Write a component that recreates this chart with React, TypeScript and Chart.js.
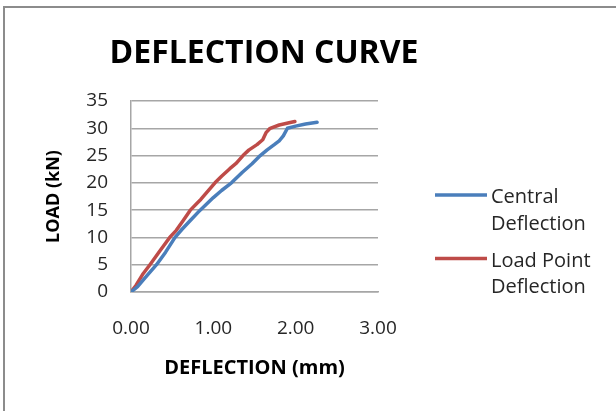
import React, { useEffect, useRef } from "react";
import { Chart, registerables } from "chart.js";

Chart.register(...registerables);

const chartTitle = "DEFLECTION CURVE";
const xAxisTitle = "DEFLECTION (mm)";
const yAxisTitle = "LOAD (kN)";
const seriesNames = ["Central Deflection", "Load Point Deflection"];
const seriesColors = ["#4a7ebb", "#be4b48"];

const centralDeflection = [0, 0.08, 0.17, 0.31, 0.42, 0.535, 0.62, 0.72, 0.84, 1.0, 1.1, 1.22, 1.35, 1.47, 1.57, 1.65, 1.74, 1.8, 1.85, 1.9, 2.0, 2.12, 2.26];
const centralLoad = [0, 1.0, 2.6, 5.0, 7.3, 10.0, 11.5, 13.1, 15.0, 17.3, 18.6, 20.0, 21.9, 23.5, 25.0, 26.0, 27.0, 27.7, 28.6, 30.0, 30.4, 30.8, 31.1];

const loadPointDeflection = [0, 0.06, 0.14, 0.23, 0.35, 0.47, 0.55, 0.63, 0.72, 0.85, 1.02, 1.1, 1.2, 1.28, 1.36, 1.43, 1.53, 1.6, 1.64, 1.69, 1.8, 1.92, 1.99];
const loadPointLoad = [0, 1.2, 3.2, 5.0, 7.5, 10.0, 11.3, 13.0, 15.0, 17.0, 20.0, 21.2, 22.6, 23.6, 25.0, 26.0, 27.0, 27.9, 29.2, 30.0, 30.6, 31.0, 31.25];

const xTicks = [0, 1, 2, 3];
const yTicks = [0, 5, 10, 15, 20, 25, 30, 35];

const FONT = '"Open Sans", "DejaVu Sans", sans-serif';
const GRID = "#a6a6a6";
const TEXT = "#262626";

function wrapText(ctx: CanvasRenderingContext2D, text: string, maxWidth: number): string[] {
  const words = text.split(" ");
  const lines: string[] = [];
  let cur = "";
  for (const w of words) {
    const test = cur ? cur + " " + w : w;
    if (cur && ctx.measureText(test).width > maxWidth) {
      lines.push(cur);
      cur = w;
    } else {
      cur = test;
    }
  }
  if (cur) lines.push(cur);
  return lines;
}

const titlePlugin = {
  id: "customTitle",
  afterDraw(chart: any) {
    const ctx = chart.ctx as CanvasRenderingContext2D;
    ctx.save();
    ctx.font = `bold 32px ${FONT}`;
    ctx.fillStyle = "#000";
    ctx.textAlign = "center";
    ctx.textBaseline = "alphabetic";
    ctx.fillText(chartTitle, 264, 63);
    ctx.restore();
  },
};

const legendPlugin = {
  id: "sideLegend",
  afterDraw(chart: any) {
    const ctx = chart.ctx as CanvasRenderingContext2D;
    ctx.save();
    ctx.font = `20px ${FONT}`;
    ctx.textAlign = "left";
    ctx.textBaseline = "alphabetic";
    chart.data.datasets.forEach((ds: any, i: number) => {
      const baseY = 203 + i * 63.5;
      ctx.strokeStyle = ds.borderColor;
      ctx.lineWidth = 3.5;
      ctx.beginPath();
      ctx.moveTo(435, baseY - 8);
      ctx.lineTo(487, baseY - 8);
      ctx.stroke();
      ctx.fillStyle = TEXT;
      const lines = wrapText(ctx, ds.label, 118);
      lines.forEach((l, j) => ctx.fillText(l, 491, baseY + j * 26.7));
    });
    ctx.restore();
  },
};

function zeroPadding(scale: any) {
  scale.paddingTop = 0;
  scale.paddingBottom = 0;
  scale.paddingLeft = 0;
  scale.paddingRight = 0;
}

export default function App() {
  const ref = useRef<HTMLCanvasElement | null>(null);

  useEffect(() => {
    document.body.style.overflow = "hidden";
    const canvas = ref.current;
    if (!canvas) return;
    const chart = new Chart(canvas, {
      type: "line",
      data: {
        datasets: [
          {
            label: seriesNames[0],
            data: centralDeflection.map((x, i) => ({ x, y: centralLoad[i] })),
            borderColor: seriesColors[0],
            backgroundColor: seriesColors[0],
            borderWidth: 3.5,
            pointRadius: 0,
            tension: 0,
            borderCapStyle: "round",
            borderJoinStyle: "round",
          },
          {
            label: seriesNames[1],
            data: loadPointDeflection.map((x, i) => ({ x, y: loadPointLoad[i] })),
            borderColor: seriesColors[1],
            backgroundColor: seriesColors[1],
            borderWidth: 3.5,
            pointRadius: 0,
            tension: 0,
            borderCapStyle: "round",
            borderJoinStyle: "round",
          },
        ],
      },
      options: {
        responsive: false,
        animation: false,
        devicePixelRatio: 1,
        layout: { padding: { left: 30, right: 238, top: 101, bottom: 19 } },
        plugins: {
          legend: { display: false },
          title: { display: false },
          tooltip: { enabled: false },
        },
        scales: {
          x: {
            type: "linear",
            min: xTicks[0],
            max: xTicks[xTicks.length - 1],
            afterBuildTicks: (s: any) => {
              s.ticks = xTicks.map((v) => ({ value: v }));
            },
            afterFit: (s: any) => {
              s.height = 100;
              zeroPadding(s);
            },
            grid: { display: false, drawTicks: false },
            border: { display: true, color: GRID, width: 1.5 },
            ticks: {
              padding: 25,
              autoSkip: false,
              maxRotation: 0,
              color: TEXT,
              font: { family: FONT, size: 19 },
              callback: (v: any) => Number(v).toFixed(2),
            },
            title: {
              display: true,
              text: xAxisTitle,
              color: "#000",
              font: { family: FONT, size: 20, weight: "bold" },
              padding: { top: 0, bottom: 12 },
            },
          },
          y: {
            type: "linear",
            min: yTicks[0],
            max: yTicks[yTicks.length - 1],
            afterBuildTicks: (s: any) => {
              s.ticks = yTicks.map((v) => ({ value: v }));
            },
            afterFit: (s: any) => {
              s.width = 101;
              zeroPadding(s);
            },
            grid: { display: true, drawTicks: false, color: GRID, lineWidth: 1.5 },
            border: { display: true, color: GRID, width: 1.5 },
            ticks: {
              padding: 23,
              autoSkip: false,
              color: TEXT,
              font: { family: FONT, size: 19 },
            },
            title: {
              display: true,
              text: yAxisTitle,
              color: "#000",
              font: { family: FONT, size: 18, weight: "bold" },
              padding: { top: 13, bottom: 0 },
            },
          },
        },
      },
      plugins: [titlePlugin, legendPlugin],
    } as any);
    return () => chart.destroy();
  }, []);

  return (
    <>
      <div
        style={{
          position: "absolute",
          left: 3,
          top: 6,
          width: 611,
          height: 403,
          borderLeft: "2px solid #8c8c8c",
          borderTop: "2px solid #8c8c8c",
        }}
      />
      <canvas
        ref={ref}
        width={616}
        height={411}
        style={{ position: "absolute", left: 0, top: 0, width: 616, height: 411 }}
      />
    </>
  );
}
